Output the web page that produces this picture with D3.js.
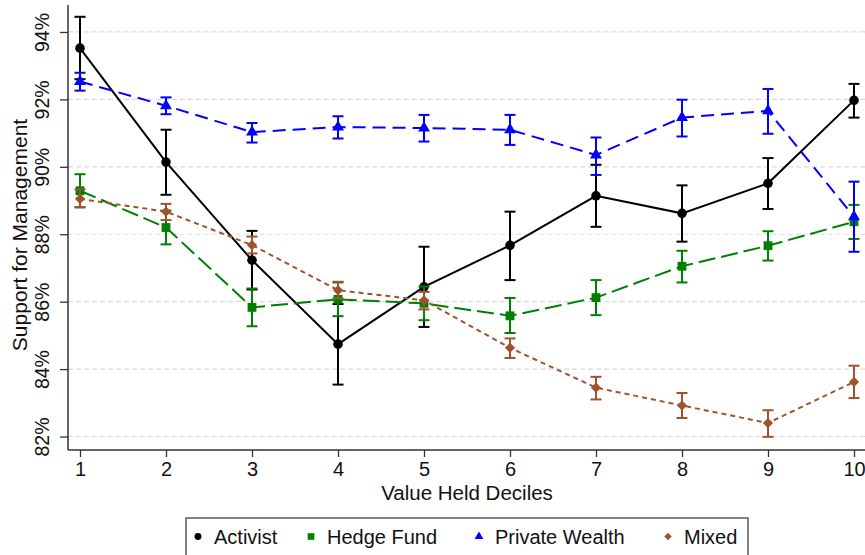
<!DOCTYPE html>
<html>
<head>
<meta charset="utf-8">
<script src="https://cdn.jsdelivr.net/npm/d3@7"></script>
<style>
  body { margin: 0; background: #fff; }
  text { font-family: "Liberation Sans", Arial, sans-serif; fill: #111; }
</style>
</head>
<body>
<div id="chart"></div>
<script>
// data
var deciles = [1, 2, 3, 4, 5, 6, 7, 8, 9, 10];
var yTicks = [82, 84, 86, 88, 90, 92, 94];

var activist   = [93.52, 90.14, 87.23, 84.74, 86.44, 87.67, 89.14, 88.62, 89.51, 91.97];
var activistLo = [92.60, 89.17, 86.36, 83.54, 85.25, 86.64, 88.22, 87.78, 88.75, 91.46];
var activistHi = [94.45, 91.10, 88.10, 85.93, 87.63, 88.67, 90.06, 89.45, 90.26, 92.46];

var hedge   = [89.29, 88.20, 85.83, 86.07, 85.95, 85.58, 86.12, 87.05, 87.66, 88.37];
var hedgeLo = [88.80, 87.70, 85.27, 85.57, 85.45, 85.07, 85.60, 86.57, 87.22, 87.86];
var hedgeHi = [89.78, 88.70, 86.39, 86.57, 86.45, 86.11, 86.64, 87.51, 88.09, 88.87];

var privateW   = [92.53, 91.81, 91.03, 91.18, 91.15, 91.10, 90.35, 91.46, 91.66, 88.52];
var privateWLo = [92.26, 91.56, 90.72, 90.84, 90.75, 90.65, 89.76, 90.90, 90.98, 87.48];
var privateWHi = [92.79, 92.06, 91.30, 91.50, 91.54, 91.54, 90.87, 91.99, 92.31, 89.56];

var mixed   = [89.05, 88.67, 87.68, 86.34, 86.04, 84.63, 83.45, 82.92, 82.40, 83.62];
var mixedLo = [88.80, 88.42, 87.43, 86.10, 85.77, 84.33, 83.10, 82.55, 81.99, 83.14];
var mixedHi = [89.33, 88.90, 87.93, 86.59, 86.29, 84.91, 83.77, 83.29, 82.78, 84.10];

var series = [
  {name: "Activist", v: activist, lo: activistLo, hi: activistHi, color: "#000000", dash: null, sym: d3.symbolCircle, size: 72, rot: 0, lsize: 38},
  {name: "Hedge Fund", v: hedge, lo: hedgeLo, hi: hedgeHi, color: "#008000", dash: "17,6", sym: d3.symbolSquare, size: 78, rot: 0, lsize: 44},
  {name: "Private Wealth", v: privateW, lo: privateWLo, hi: privateWHi, color: "#0000ff", dash: "13,7", sym: d3.symbolTriangle, size: 62, rot: 0, lsize: 34},
  {name: "Mixed", v: mixed, lo: mixedLo, hi: mixedHi, color: "#a0522d", dash: "5,4", sym: d3.symbolSquare, size: 52, rot: 45, lsize: 28}
];

var W = 865, H = 555;
var plot = {left: 68, right: 865, top: 5, bottom: 450};

var svg = d3.select("#chart").append("svg")
    .attr("width", W)
    .attr("height", H);

var x = d3.scaleLinear().domain([1, 10]).range([80, 854]);
var y = d3.scaleLinear().domain([81.6, 94.8]).range([plot.bottom, plot.top]);

// gridlines
svg.append("g").selectAll("line")
  .data(yTicks)
  .enter().append("line")
    .attr("x1", plot.left).attr("x2", plot.right)
    .attr("y1", d => y(d)).attr("y2", d => y(d))
    .attr("stroke", "#dadada")
    .attr("stroke-width", 1.2)
    .attr("stroke-dasharray", "5,3");

// x axis
var xAxis = svg.append("g")
    .attr("transform", "translate(0," + plot.bottom + ")")
    .call(d3.axisBottom(x).tickValues(deciles).tickFormat(d3.format("d")).tickSize(7).tickSizeOuter(0));
xAxis.select(".domain").attr("d", "M" + plot.left + ",0H" + plot.right).attr("stroke", "#333").attr("stroke-width", 1.5);
xAxis.selectAll(".tick line").attr("stroke", "#333").attr("stroke-width", 1.3);
xAxis.selectAll(".tick text")
    .attr("y", 12)
    .style("font-size", "20px")
    .style("font-family", "'Liberation Sans', Arial, sans-serif")
    .attr("fill", "#111");

// y axis, labels turned on their side
var yAxis = svg.append("g")
    .attr("transform", "translate(" + plot.left + ",0)")
    .call(d3.axisLeft(y).tickValues(yTicks).tickFormat(d => d + "%").tickSize(8).tickSizeOuter(0));
yAxis.select(".domain").attr("d", "M0," + plot.top + "V" + plot.bottom).attr("stroke", "#333").attr("stroke-width", 1.5);
yAxis.selectAll(".tick line").attr("stroke", "#333").attr("stroke-width", 1.3);
yAxis.selectAll(".tick text")
    .attr("x", null).attr("dy", null)
    .attr("y", -19)
    .attr("transform", "rotate(-90)")
    .attr("text-anchor", "middle")
    .style("font-size", "19.5px")
    .style("font-family", "'Liberation Sans', Arial, sans-serif")
    .attr("fill", "#111");

// axis titles
svg.append("text")
    .attr("x", 467).attr("y", 500)
    .attr("text-anchor", "middle")
    .style("font-size", "20.5px")
    .text("Value Held Deciles");

svg.append("text")
    .attr("transform", "translate(27,235) rotate(-90)")
    .attr("text-anchor", "middle")
    .style("font-size", "21px")
    .text("Support for Management");

// series
var line = d3.line()
    .x((d, i) => x(deciles[i]))
    .y(d => y(d));

series.forEach(function(s) {
  var g = svg.append("g");
  // error bars
  var bars = g.selectAll(".bar")
    .data(deciles)
    .enter().append("g");
  bars.append("line")
    .attr("x1", d => x(d)).attr("x2", d => x(d))
    .attr("y1", (d, i) => y(s.lo[i])).attr("y2", (d, i) => y(s.hi[i]));
  bars.append("line")
    .attr("x1", d => x(d) - 5.5).attr("x2", d => x(d) + 5.5)
    .attr("y1", (d, i) => y(s.lo[i])).attr("y2", (d, i) => y(s.lo[i]));
  bars.append("line")
    .attr("x1", d => x(d) - 5.5).attr("x2", d => x(d) + 5.5)
    .attr("y1", (d, i) => y(s.hi[i])).attr("y2", (d, i) => y(s.hi[i]));
  bars.selectAll("line")
    .attr("stroke", s.color)
    .attr("stroke-width", 2);

  g.append("path")
    .datum(s.v)
    .attr("d", line)
    .attr("fill", "none")
    .attr("stroke", s.color)
    .attr("stroke-width", 2)
    .attr("stroke-dasharray", s.dash);

  g.selectAll(".pt")
    .data(s.v)
    .enter().append("path")
      .attr("d", d3.symbol().type(s.sym).size(s.size))
      .attr("transform", (d, i) => "translate(" + x(deciles[i]) + "," + y(d) + ") rotate(" + s.rot + ")")
      .attr("fill", s.color);
});

// legend
var legend = svg.append("g");
legend.append("rect")
    .attr("x", 186).attr("y", 518)
    .attr("width", 562).attr("height", 60)
    .attr("fill", "#fff")
    .attr("stroke", "#333")
    .attr("stroke-width", 1.2);

var legX = [198, 311, 479, 668];
series.forEach(function(s, i) {
  legend.append("path")
    .attr("d", d3.symbol().type(s.sym).size(s.lsize))
    .attr("transform", "translate(" + legX[i] + ",536.5) rotate(" + s.rot + ")")
    .attr("fill", s.color);
  legend.append("text")
    .attr("x", legX[i] + 16).attr("y", 543.5)
    .style("font-size", "20px")
    .text(s.name);
});
</script>
</body>
</html>
